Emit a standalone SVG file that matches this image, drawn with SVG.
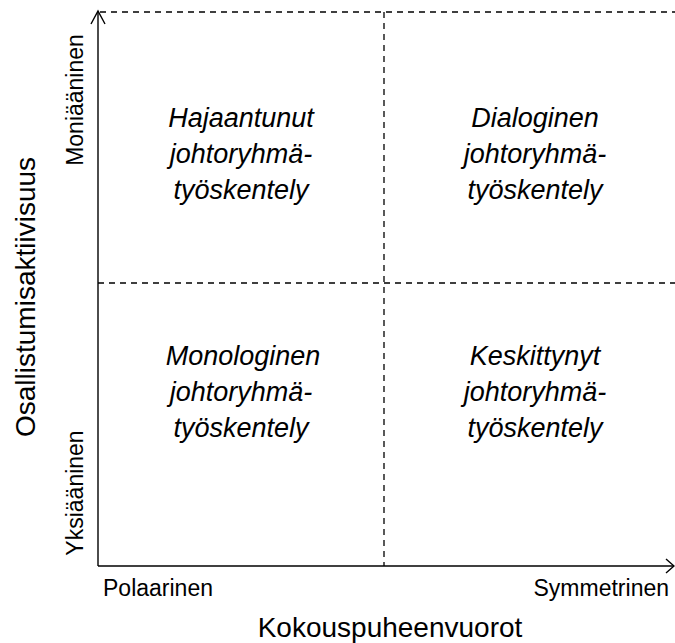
<svg xmlns="http://www.w3.org/2000/svg" width="675" height="643" viewBox="0 0 675 643">
  <style>
    .axis { stroke: #000; stroke-width: 1.4; fill: none; }
    .grid { stroke: #000; stroke-width: 1.3; stroke-dasharray: 6 5; fill: none; }
    .cell { font-family: "Liberation Sans", Arial, sans-serif; font-style: italic; font-size: 27px; fill: #000; text-anchor: middle; }
    .tick { font-family: "Liberation Sans", Arial, sans-serif; font-size: 23px; fill: #000; }
    .title { font-family: "Liberation Sans", Arial, sans-serif; font-size: 28px; fill: #000; text-anchor: middle; }
  </style>

  <!-- quadrant guides and axes -->
  <g id="connectors">
    <line class="grid" x1="100" y1="12" x2="675" y2="12"/>
    <line class="grid" x1="98" y1="283" x2="675" y2="283"/>
    <line class="grid" x1="384" y1="12" x2="384" y2="566"/>
    <path class="axis" d="M98,566 L98,12"/>
    <path class="axis" d="M91,24 L98,11 L105,24"/>
    <path class="axis" d="M98,566 L674,566"/>
    <path class="axis" d="M666,559 L674,566 L666,573"/>
  </g>

  <g id="q-top-left">
    <text class="cell" x="241" y="127">Hajaantunut</text>
    <text class="cell" x="241" y="163">johtoryhmä-</text>
    <text class="cell" x="241" y="199">työskentely</text>
  </g>
  <g id="q-top-right">
    <text class="cell" x="535" y="127">Dialoginen</text>
    <text class="cell" x="535" y="163">johtoryhmä-</text>
    <text class="cell" x="535" y="199">työskentely</text>
  </g>
  <g id="q-bottom-left">
    <text class="cell" x="243" y="365">Monologinen</text>
    <text class="cell" x="241" y="401">johtoryhmä-</text>
    <text class="cell" x="241" y="437">työskentely</text>
  </g>
  <g id="q-bottom-right">
    <text class="cell" x="535" y="365">Keskittynyt</text>
    <text class="cell" x="535" y="401">johtoryhmä-</text>
    <text class="cell" x="535" y="437">työskentely</text>
  </g>

  <g id="y-axis-labels">
    <text class="tick" transform="translate(83,100) rotate(-90)" text-anchor="middle">Moniääninen</text>
    <text class="tick" transform="translate(83,493) rotate(-90)" text-anchor="middle">Yksiääninen</text>
    <text class="title" transform="translate(35,297) rotate(-90)">Osallistumisaktiivisuus</text>
  </g>
  <g id="x-axis-labels">
    <text class="tick" x="103" y="596">Polaarinen</text>
    <text class="tick" x="669" y="596" text-anchor="end">Symmetrinen</text>
    <text class="title" x="390" y="637">Kokouspuheenvuorot</text>
  </g>
</svg>
